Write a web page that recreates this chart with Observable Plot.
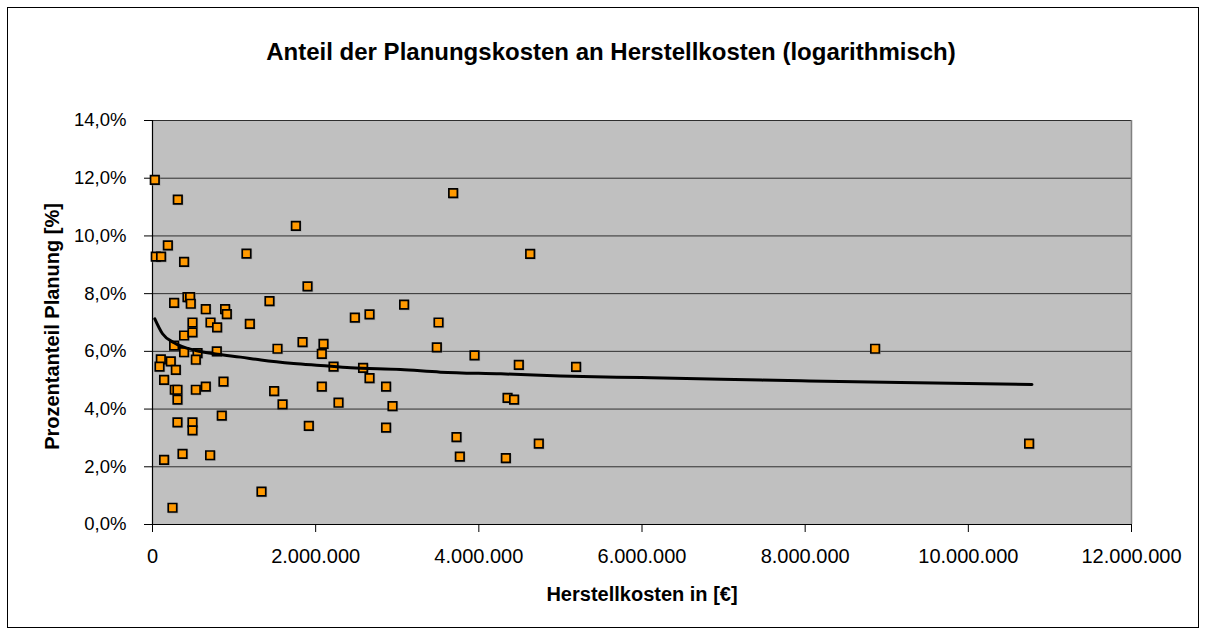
<!DOCTYPE html>
<html><head><meta charset="utf-8">
<script src="https://cdn.jsdelivr.net/npm/d3@7"></script>
<script src="https://cdn.jsdelivr.net/npm/@observablehq/plot@0.6"></script>
<style>
html,body{margin:0;padding:0;background:#fff;}
#wrap{position:relative;width:1206px;height:634px;overflow:hidden;}
#chart svg{position:absolute;left:0;top:0;}
#border{position:absolute;left:7px;top:7px;width:1192px;height:621px;border:1px solid #000;box-sizing:border-box;pointer-events:none;}
</style></head><body>
<div id="wrap"><div id="chart"></div><div id="border"></div></div>
<script>
// Herstellkosten in € (x) and Prozentanteil Planung in % (y)
const costs = [28000, 310000, 1757000, 188000, 40000, 105000, 387000, 1152000, 429000, 461000,
  469000, 265000, 1434000, 653000, 890000, 911000, 490000, 711000, 792000, 1193000,
  387000, 490000, 265000, 387000, 552000, 788000, 1532000, 1839000, 102000, 224000,
  86000, 286000, 531000, 142000, 273000, 306000, 531000, 653000, 870000, 306000,
  1491000, 1594000, 306000, 490000, 490000, 849000, 142000, 368000, 706000, 1336000,
  245000, 3685000, 1900000, 3084000, 2480000, 2660000, 3506000, 2096000, 2075000, 3485000,
  3947000, 2219000, 2581000, 2660000, 2075000, 2863000, 2280000, 2942000, 1916000, 2863000,
  3726000, 3767000, 4629000, 4490000, 5192000, 4352000, 4432000, 4735000, 4331000, 8857000,
  10745000];
const shares = [11.94, 11.26, 10.35, 9.67, 9.28, 9.28, 9.10, 9.39, 7.88, 7.88,
  7.65, 7.68, 7.74, 7.46, 7.46, 7.29, 7.00, 7.00, 6.83, 6.95,
  6.55, 6.66, 6.20, 5.97, 5.94, 6.00, 6.09, 6.32, 5.72, 5.65,
  5.47, 5.36, 5.71, 5.01, 4.67, 4.67, 4.67, 4.78, 4.95, 4.33,
  4.62, 4.16, 3.54, 3.54, 3.26, 3.77, 2.24, 2.45, 2.40, 1.14,
  0.58, 11.48, 8.25, 7.62, 7.17, 7.28, 7.00, 6.26, 5.91, 6.14,
  5.86, 5.47, 5.43, 5.07, 4.78, 4.78, 4.22, 4.10, 3.42, 3.36,
  3.03, 2.35, 9.38, 5.53, 5.46, 4.39, 4.33, 2.80, 2.30, 6.09,
  2.80];

// logarithmic trend line
const trendCosts = [28000, 123000, 265000, 531000, 800000, 1080000, 1330000, 1730000, 2060000, 2430000,
  3040000, 3530000, 4270000, 5000000, 5990000, 6970000, 7950000, 9170000, 10780000];
const trendShares = [7.13, 6.61, 6.30, 6.03, 5.90, 5.80, 5.70, 5.58, 5.51, 5.43,
  5.37, 5.28, 5.22, 5.15, 5.09, 5.03, 4.98, 4.92, 4.85];

const xTicks = [0, 2000000, 4000000, 6000000, 8000000, 10000000, 12000000];
const xTickLabels = ["0", "2.000.000", "4.000.000", "6.000.000", "8.000.000", "10.000.000", "12.000.000"];
const yTicks = [0, 2, 4, 6, 8, 10, 12, 14];
const yTickLabels = ["0,0%", "2,0%", "4,0%", "6,0%", "8,0%", "10,0%", "12,0%", "14,0%"];

const titleText = "Anteil der Planungskosten an Herstellkosten (logarithmisch)";
const xTitle = "Herstellkosten in [€]";
const yTitle = "Prozentanteil Planung [%]";

const points = costs.map((c, i) => ({cost: c, share: shares[i]}));
const trend = trendCosts.map((c, i) => ({cost: c, share: trendShares[i]}));

const font = "'Liberation Sans', Arial, sans-serif";

const chart = Plot.plot({
  width: 1206,
  height: 634,
  marginLeft: 152,
  marginRight: 75,
  marginTop: 120,
  marginBottom: 110,
  style: {fontFamily: font, color: "#000", background: "transparent"},
  x: {domain: [0, 12000000], label: null},
  y: {domain: [0, 14], label: null},
  marks: [
    Plot.frame({fill: "#c0c0c0", stroke: null}),
    Plot.ruleY(yTicks.filter(d => d > 0), {stroke: "#2e2e2e", strokeWidth: 1}),
    Plot.ruleX([12000000], {stroke: "#808080", strokeWidth: 1.5}),
    Plot.axisY(yTicks, {tickFormat: (d, i) => yTickLabels[i], tickSize: 8, tickPadding: 18, fontSize: 18.5, label: null, stroke: "#000"}),
    Plot.axisX(xTicks, {tickFormat: (d, i) => xTickLabels[i], tickSize: 8, tickPadding: 16, fontSize: 20, label: null, stroke: "#000"}),
    Plot.ruleX([0], {stroke: "#000", strokeWidth: 1.2}),
    Plot.ruleY([0], {stroke: "#000", strokeWidth: 1.2}),
    Plot.dot(points, {x: "cost", y: "share", symbol: "square", r: 5.6, fill: "#8c8c8c", fillOpacity: 0.55, stroke: null, dx: 0.8, dy: 0.8}),
    Plot.dot(points, {x: "cost", y: "share", symbol: "square", r: 4.8, fill: "#ff9900", stroke: "#000", strokeWidth: 1.7}),
    Plot.line(trend, {x: "cost", y: "share", stroke: "#000", strokeWidth: 3, curve: "monotone-x"}),
    Plot.text([titleText], {frameAnchor: "top", lineAnchor: "middle", dx: -31, dy: -68, fontSize: 24, fontWeight: "bold", fill: "#000"}),
    Plot.text([xTitle], {frameAnchor: "bottom", lineAnchor: "middle", dy: 70, fontSize: 20, fontWeight: "bold", fill: "#000"}),
    Plot.text([yTitle], {frameAnchor: "left", textAnchor: "middle", lineAnchor: "middle", rotate: -90, dx: -100, dy: 4, fontSize: 20, fontWeight: "bold", fill: "#000"})
  ]
});
document.getElementById("chart").appendChild(chart);
</script>
</body></html>
